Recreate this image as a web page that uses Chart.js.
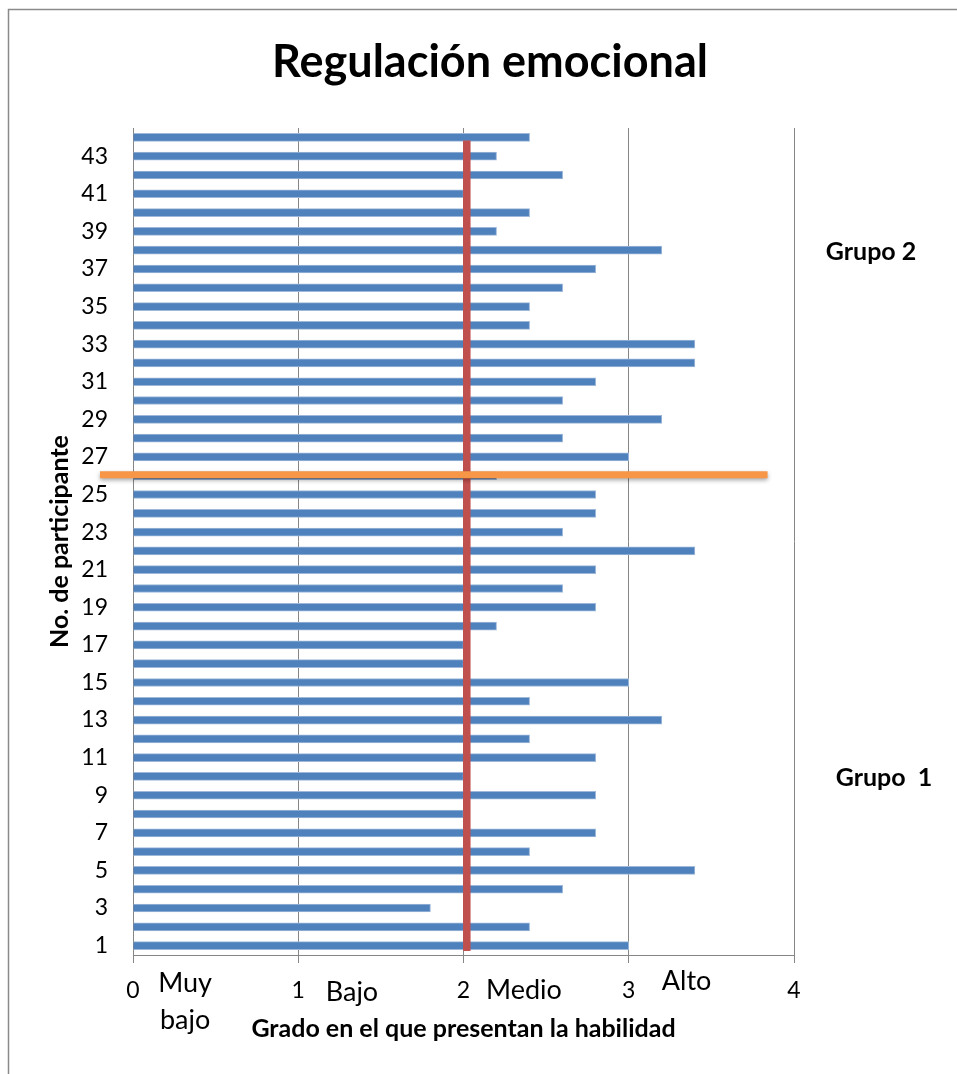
<!DOCTYPE html>
<html>
<head>
<meta charset="utf-8">
<script src="https://cdn.jsdelivr.net/npm/chart.js@4.4.0/dist/chart.umd.min.js"></script>
<style>
  html, body { margin: 0; padding: 0; background: #ffffff; }
  #wrap { position: absolute; left: 0; top: 0; width: 957px; height: 1074px; }
</style>
</head>
<body>
<div id="wrap"><canvas id="c" width="957" height="1074"></canvas></div>
<script>
// ---- Data ----
const participants = ['1','2','3','4','5','6','7','8','9','10','11','12','13','14','15','16','17','18','19','20','21','22',
                      '23','24','25','26','27','28','29','30','31','32','33','34','35','36','37','38','39','40','41','42','43','44'];
const scores = [3.0, 2.4, 1.8, 2.6, 3.4, 2.4, 2.8, 2.0, 2.8, 2.0, 2.8, 2.4, 3.2, 2.4, 3.0, 2.0, 2.0, 2.2, 2.8, 2.6, 2.8, 3.4,
                2.6, 2.8, 2.8, 2.2, 3.0, 2.6, 3.2, 2.6, 2.8, 3.4, 3.4, 2.4, 2.4, 2.6, 2.8, 3.2, 2.2, 2.4, 2.0, 2.6, 2.2, 2.4];
const xTickValues = [0, 1, 2, 3, 4];
const levelNames = [['Muy', 'bajo'], ['Bajo'], ['Medio'], ['Alto']];
const groupNames = ['Grupo 2', 'Grupo  1'];
const titleText = 'Regulación emocional';
const xTitle = 'Grado en el que presentan la habilidad';
const yTitle = 'No. de participante';

// ---- Styling / placement ----
const FONT = 'Lato, "Open Sans", sans-serif';
const GRID = '#868686';
const levelPlacement = [
  { v: 0.315, dy: [28, 65] },
  { v: 1.325, dy: [37] },
  { v: 2.366, dy: [35] },
  { v: 3.35,  dy: [26] }
];
const groupPlacement = [
  { dx: 77, cat: 37.9 },
  { dx: 90, cat: 9.9 }
];
const titlePlacement = { x: 490, y: 62 };
const medioLineValue = 2.02;
const splitCategoryIndex = 25;

const overlay = {
  id: 'overlay',
  beforeDraw(chart) {
    const ctx = chart.ctx;
    ctx.save();
    ctx.fillStyle = '#ffffff';
    ctx.fillRect(0, 0, chart.width, chart.height);
    ctx.strokeStyle = '#8a8a8a';
    ctx.lineWidth = 1.5;
    ctx.strokeRect(8.5, 9.5, chart.width + 20, chart.height + 20);
    ctx.fillStyle = '#000000';
    ctx.textAlign = 'center';
    ctx.textBaseline = 'middle';
    ctx.font = 'bold 45px ' + FONT;
    ctx.fillText(titleText, titlePlacement.x, titlePlacement.y);
    ctx.restore();
  },
  afterDatasetsDraw(chart) {
    const ctx = chart.ctx;
    const xs = chart.scales.x, ys = chart.scales.y, area = chart.chartArea;
    ctx.save();
    // red "Medio" reference line
    const rx = xs.getPixelForValue(medioLineValue);
    ctx.strokeStyle = '#C0504D';
    ctx.lineWidth = 7.5;
    ctx.beginPath();
    ctx.moveTo(rx, ys.getPixelForValue(participants.length - 1) + 3);
    ctx.lineTo(rx, area.bottom - 4);
    ctx.stroke();
    // orange group separator
    const oy = ys.getPixelForValue(splitCategoryIndex) - 1;
    ctx.shadowColor = 'rgba(0,0,0,0.35)';
    ctx.shadowBlur = 4;
    ctx.shadowOffsetY = 2;
    ctx.strokeStyle = '#F79646';
    ctx.lineWidth = 7;
    ctx.beginPath();
    ctx.moveTo(area.left - 33, oy);
    ctx.lineTo(xs.getPixelForValue(3.84), oy);
    ctx.stroke();
    ctx.restore();
  },
  afterDraw(chart) {
    const ctx = chart.ctx;
    const xs = chart.scales.x, ys = chart.scales.y, area = chart.chartArea;
    ctx.save();
    ctx.fillStyle = '#000000';
    ctx.textAlign = 'center';
    ctx.textBaseline = 'middle';
    ctx.font = '27px ' + FONT;
    levelNames.forEach((lines, i) => {
      const p = levelPlacement[i];
      lines.forEach((t, j) => ctx.fillText(t, xs.getPixelForValue(p.v), area.bottom + p.dy[j]));
    });
    ctx.font = 'bold 25px ' + FONT;
    groupNames.forEach((t, i) => {
      const p = groupPlacement[i];
      ctx.fillText(t, area.right + p.dx, ys.getPixelForValue(p.cat - 1));
    });
    ctx.restore();
  }
};

new Chart(document.getElementById('c'), {
  type: 'bar',
  data: {
    labels: participants,
    datasets: [{
      data: scores,
      backgroundColor: '#4F81BD',
      borderColor: '#9DB8DA',
      borderWidth: { top: 1, bottom: 1, right: 1, left: 0 },
      barThickness: 8
    }]
  },
  options: {
    indexAxis: 'y',
    responsive: false,
    animation: false,
    layout: { padding: { top: 128, left: 0, right: 163, bottom: 0 } },
    plugins: {
      legend: { display: false },
      tooltip: { enabled: false },
      title: { display: false }
    },
    scales: {
      x: {
        type: 'linear',
        min: 0, max: 4,
        afterBuildTicks(scale) { scale.ticks = xTickValues.map(v => ({ value: v })); },
        afterFit(scale) { scale.height = 119; },
        grid: { color: GRID, lineWidth: 1, tickLength: 8, drawTicks: true },
        border: { color: GRID, width: 1 },
        ticks: { color: '#000000', font: { family: FONT, size: 23 }, padding: 14 },
        title: {
          display: true, text: xTitle, color: '#000000',
          font: { family: FONT, size: 25, weight: 'bold' },
          padding: { top: 0, bottom: 30 }
        }
      },
      y: {
        type: 'category',
        reverse: true,
        afterFit(scale) { scale.width = 133; },
        grid: { display: false },
        border: { color: GRID, width: 1 },
        ticks: {
          autoSkip: false,
          color: '#000000',
          font: { family: FONT, size: 23 },
          padding: 17,
          callback(v, i) { return i % 2 === 0 ? participants[i] : ''; }
        },
        title: {
          display: true, text: yTitle, color: '#000000',
          font: { family: FONT, size: 25, weight: 'bold' },
          padding: { top: 45, bottom: 0 }
        }
      }
    }
  },
  plugins: [overlay]
});
</script>
</body>
</html>
